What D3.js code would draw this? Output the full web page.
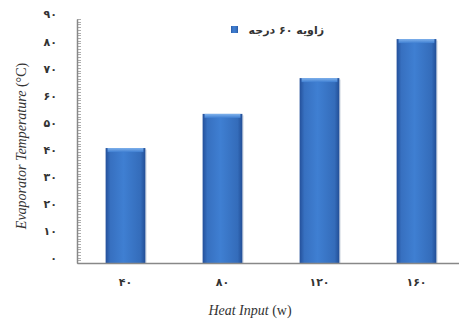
<!DOCTYPE html>
<html>
<head>
<meta charset="utf-8">
<script src="https://cdn.jsdelivr.net/npm/d3@7"></script>
<style>
  body { margin: 0; background: #fff; }
</style>
</head>
<body>
<div id="chart"></div>
<script>
// data
const categories = ['۴۰', '۸۰', '۱۲۰', '۱۶۰'];
const values = [42.4, 55, 68.2, 82.6];
const seriesName = 'زاویه ۶۰ درجه';
const yTicks = [0, 10, 20, 30, 40, 50, 60, 70, 80, 90];
const yTickLabels = ['۰', '۱۰', '۲۰', '۳۰', '۴۰', '۵۰', '۶۰', '۷۰', '۸۰', '۹۰'];

const width = 459, height = 320;
const margin = { top: 19, right: -6, bottom: 57, left: 77 };
const plotW = width - margin.left - margin.right;
const plotH = height - margin.top - margin.bottom;
const serif = "'Liberation Serif', 'DejaVu Serif', 'Times New Roman', serif";

const svg = d3.select('#chart').append('svg')
  .attr('width', width)
  .attr('height', height);

const defs = svg.append('defs');
const grad = defs.append('linearGradient')
  .attr('id', 'barGrad')
  .attr('x1', '0%').attr('x2', '100%').attr('y1', '0%').attr('y2', '0%');
grad.append('stop').attr('offset', '0%').attr('stop-color', '#24509a');
grad.append('stop').attr('offset', '12%').attr('stop-color', '#3770c0');
grad.append('stop').attr('offset', '45%').attr('stop-color', '#3f7fd2');
grad.append('stop').attr('offset', '88%').attr('stop-color', '#346cba');
grad.append('stop').attr('offset', '100%').attr('stop-color', '#224e96');

const topGrad = defs.append('linearGradient')
  .attr('id', 'topGrad')
  .attr('x1', '0%').attr('x2', '0%').attr('y1', '0%').attr('y2', '100%');
topGrad.append('stop').attr('offset', '0%').attr('stop-color', '#80b2ec');
topGrad.append('stop').attr('offset', '100%').attr('stop-color', '#3f7fd2');

const g = svg.append('g')
  .attr('transform', `translate(${margin.left}, ${margin.top})`);

const x = d3.scaleBand()
  .domain(categories)
  .range([0, plotW])
  .paddingInner(0.59)
  .paddingOuter(0.295);

const y = d3.scaleLinear()
  .domain([0, 90])
  .range([plotH, 0]);

// bars
const bars = g.selectAll('.bar')
  .data(values)
  .enter().append('g')
  .attr('class', 'bar');

bars.append('rect')
  .attr('x', (d, i) => x(categories[i]) + 1.5)
  .attr('y', d => y(d) + 1.5)
  .attr('width', x.bandwidth())
  .attr('height', d => plotH - y(d) - 1.5)
  .attr('fill', '#cfd6e0')
  .attr('opacity', 0.6);

bars.append('rect')
  .attr('x', (d, i) => x(categories[i]))
  .attr('y', d => y(d))
  .attr('width', x.bandwidth())
  .attr('height', d => plotH - y(d))
  .attr('fill', 'url(#barGrad)');

bars.append('rect')
  .attr('x', (d, i) => x(categories[i]) + 2)
  .attr('y', d => y(d))
  .attr('width', x.bandwidth() - 4)
  .attr('height', 4)
  .attr('fill', 'url(#topGrad)');

// y axis with minor ticks
const minor = d3.range(0, 91, 1);
g.append('g')
  .selectAll('line')
  .data(minor)
  .enter().append('line')
  .attr('x1', 0)
  .attr('x2', 4)
  .attr('y1', d => Math.round(y(d)) + 0.5)
  .attr('y2', d => Math.round(y(d)) + 0.5)
  .attr('stroke', '#999')
  .attr('stroke-width', 0.8);

const yAxis = g.append('g')
  .attr('class', 'axis axis--y')
  .call(d3.axisLeft(y).tickValues(yTicks).tickSize(0).tickPadding(20)
    .tickFormat((d, i) => yTickLabels[i]));
yAxis.select('.domain').attr('stroke', '#888').attr('stroke-width', 1.5);
yAxis.selectAll('text')
  .attr('dy', '-0.1em')
  .attr('font-size', '11px')
  .attr('font-weight', 'bold')
  .attr('font-family', 'DejaVu Sans')
  .attr('fill', '#333');

// x axis
const xAxis = g.append('g')
  .attr('class', 'axis axis--x')
  .attr('transform', `translate(0, ${plotH})`)
  .call(d3.axisBottom(x).tickSize(0).tickPadding(15));
xAxis.select('.domain').attr('stroke', '#888').attr('stroke-width', 1.5);
xAxis.selectAll('text')
  .attr('font-size', '11px')
  .attr('font-weight', 'bold')
  .attr('font-family', 'DejaVu Sans')
  .attr('fill', '#333');

// axis titles
const xt = svg.append('text')
  .attr('x', 250)
  .attr('y', 315)
  .attr('text-anchor', 'middle')
  .attr('font-family', serif)
  .attr('font-size', '14px')
  .attr('fill', '#333');
xt.append('tspan').attr('font-style', 'italic').text('Heat Input');
xt.append('tspan').text(' (w)');

const yt = svg.append('text')
  .attr('transform', 'translate(26, 146) rotate(-90)')
  .attr('text-anchor', 'middle')
  .attr('font-family', serif)
  .attr('font-size', '14px')
  .attr('fill', '#333');
yt.append('tspan').attr('font-style', 'italic').text('Evaporator Temperature');
yt.append('tspan').text(' (°C)');

// legend
svg.append('rect')
  .attr('x', 231)
  .attr('y', 26)
  .attr('width', 7)
  .attr('height', 7)
  .attr('fill', 'url(#barGrad)');

svg.append('text')
  .attr('x', 324)
  .attr('y', 34)
  .attr('text-anchor', 'end')
  .attr('font-family', 'DejaVu Sans')
  .attr('font-weight', 'bold')
  .attr('font-size', '11px')
  .attr('fill', '#333')
  .text(seriesName);
</script>
</body>
</html>
